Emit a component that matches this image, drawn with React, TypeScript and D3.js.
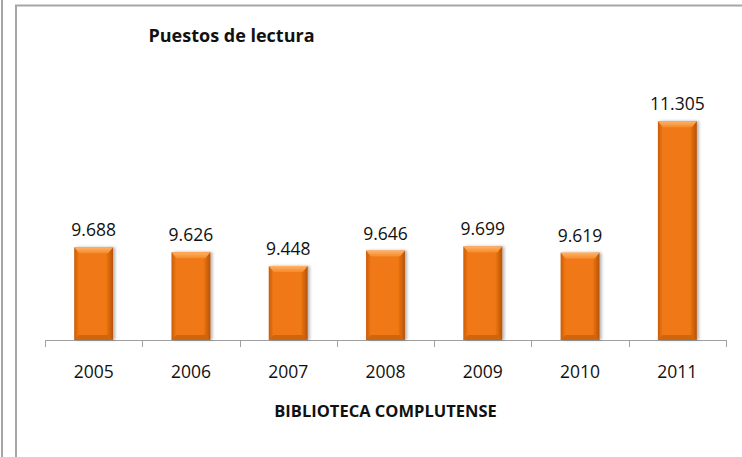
import React, { useEffect, useRef } from 'react';
import * as d3 from 'd3';

const years = ['2005', '2006', '2007', '2008', '2009', '2010', '2011'];
const puestos = [9688, 9626, 9448, 9646, 9699, 9619, 11305];

const title = 'Puestos de lectura';
const axisTitle = 'BIBLIOTECA COMPLUTENSE';

const fmt = (v: number) => d3.format(',')(v).replace(/,/g, '.');

const PuestosChart: React.FC = () => {
  const svgRef = useRef<SVGSVGElement | null>(null);

  useEffect(() => {
    if (!svgRef.current) return;
    const width = 742;
    const height = 457;
    const svg = d3.select(svgRef.current).attr('width', width).attr('height', height);
    svg.selectAll('*').remove();

    const font = "'Open Sans', 'Noto Sans', sans-serif";

    // gradients for the bevelled bars
    const defs = svg.append('defs');
    const side = defs.append('linearGradient').attr('id', 'barSide').attr('x1', 0).attr('x2', 1).attr('y1', 0).attr('y2', 0);
    side.append('stop').attr('offset', '0%').attr('stop-color', '#c95c08');
    side.append('stop').attr('offset', '12%').attr('stop-color', '#f07812');
    side.append('stop').attr('offset', '82%').attr('stop-color', '#f07812');
    side.append('stop').attr('offset', '100%').attr('stop-color', '#b65206');
    const topG = defs.append('linearGradient').attr('id', 'barTop').attr('x1', 0).attr('x2', 0).attr('y1', 0).attr('y2', 1);
    topG.append('stop').attr('offset', '0%').attr('stop-color', '#ffb266');
    topG.append('stop').attr('offset', '100%').attr('stop-color', '#f58a2a');
    const shadow = defs.append('filter').attr('id', 'shadow').attr('x', '-20%').attr('y', '-5%').attr('width', '150%').attr('height', '110%');
    shadow.append('feDropShadow').attr('dx', 2).attr('dy', 0).attr('stdDeviation', 1.5).attr('flood-color', '#000').attr('flood-opacity', 0.3);

    // frame lines
    svg.append('line').attr('x1', 2).attr('x2', 2).attr('y1', 0).attr('y2', height)
      .attr('stroke', '#a6a6a6').attr('stroke-width', 2);
    svg.append('path').attr('d', `M16,${height} V5.5 H${width}`)
      .attr('fill', 'none').attr('stroke', '#a6a6a6').attr('stroke-width', 2);

    const x = d3.scaleBand<string>().domain(years).range([45, 726]).paddingInner(0.6).paddingOuter(0.3);
    const y = d3.scaleLinear().domain([8500, 12000]).range([340, 67]);

    // axis line with ticks between categories
    const step = x.step();
    const x0 = 45;
    svg.append('line').attr('x1', x0).attr('x2', 726).attr('y1', 340.5).attr('y2', 340.5)
      .attr('stroke', '#a0a0a0').attr('stroke-width', 1);
    svg.selectAll('.tick').data(d3.range(years.length + 1)).enter().append('line')
      .attr('x1', i => Math.round(x0 + i * step) + 0.5).attr('x2', i => Math.round(x0 + i * step) + 0.5)
      .attr('y1', 340).attr('y2', 347)
      .attr('stroke', '#a0a0a0').attr('stroke-width', 1);

    const bars = svg.selectAll('.bar').data(years).enter().append('g').attr('class', 'bar');
    const bw = x.bandwidth();
    bars.append('rect')
      .attr('x', d => x(d)!)
      .attr('y', (d, i) => y(puestos[i]))
      .attr('width', bw)
      .attr('height', (d, i) => 340 - y(puestos[i]))
      .attr('fill', 'url(#barSide)')
      .attr('filter', 'url(#shadow)');
    // top bevel
    bars.append('path')
      .attr('d', (d, i) => {
        const bx = x(d)!;
        const by = y(puestos[i]);
        return `M${bx},${by} H${bx + bw} L${bx + bw - 5},${by + 6} H${bx + 5} Z`;
      })
      .attr('fill', 'url(#barTop)');
    // bottom bevel
    bars.append('path')
      .attr('d', d => {
        const bx = x(d)!;
        return `M${bx},340 H${bx + bw} L${bx + bw - 5},335 H${bx + 5} Z`;
      })
      .attr('fill', '#d0650c');

    // value labels
    bars.append('text')
      .attr('x', d => x(d)! + bw / 2)
      .attr('y', (d, i) => y(puestos[i]) - 11)
      .attr('text-anchor', 'middle')
      .style('font-family', font)
      .style('font-size', '17.5px')
      .style('fill', '#111')
      .text((d, i) => fmt(puestos[i]));

    // category labels
    svg.selectAll('.cat').data(years).enter().append('text')
      .attr('x', d => x(d)! + bw / 2)
      .attr('y', 378)
      .attr('text-anchor', 'middle')
      .style('font-family', font)
      .style('font-size', '17.5px')
      .style('fill', '#111')
      .text(d => d);

    svg.append('text')
      .attr('x', 385.5).attr('y', 417)
      .attr('text-anchor', 'middle')
      .style('font-family', font).style('font-weight', 'bold')
      .style('font-size', '16.5px').style('fill', '#111')
      .text(axisTitle);

    svg.append('text')
      .attr('x', 231.5).attr('y', 42)
      .attr('text-anchor', 'middle')
      .style('font-family', font).style('font-weight', 'bold')
      .style('font-size', '18px').style('fill', '#111')
      .text(title);
  }, []);

  return <svg ref={svgRef} style={{ position: 'absolute', left: 0, top: 0, background: '#fff' }}></svg>;
};

export default function App() {
  return <PuestosChart />;
}
